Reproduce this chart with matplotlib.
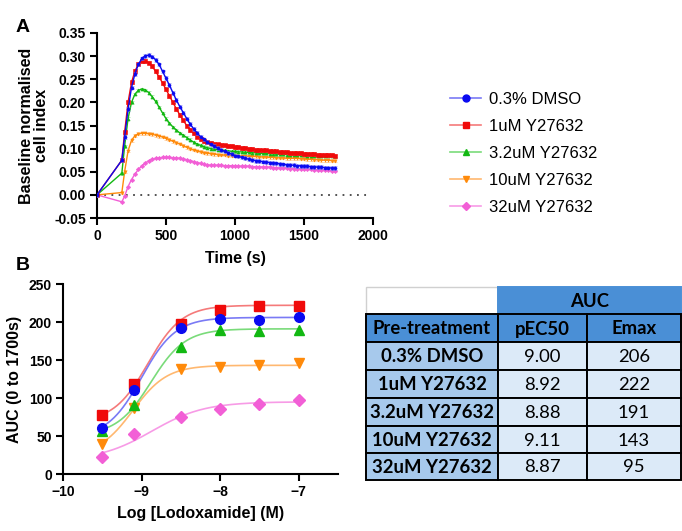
import numpy as np
import matplotlib
matplotlib.use('Agg')
import matplotlib.pyplot as plt
from matplotlib.lines import Line2D
from matplotlib.patches import Rectangle

plt.rcParams['font.family'] = ['Liberation Sans', 'DejaVu Sans']

# ---------------- data ----------------
labels = ['0.3% DMSO', '1uM Y27632', '3.2uM Y27632', '10uM Y27632', '32uM Y27632']
colors = ['#0A0AF0', '#F00A0A', '#12B812', '#FF8A0A', '#F25FD6']
light = ['#7A7AF5', '#F57A7A', '#7ADB7A', '#FFB870', '#F79BE6']
markers = ['o', 's', '^', 'v', 'D']

# panel A: time course (s)
time_early = [0, 180]
time_late = np.arange(200, 1726, 25)

dmso = [0.0, 0.075,
        0.125, 0.185, 0.232, 0.262, 0.282, 0.295, 0.301, 0.302, 0.299, 0.292,
        0.282, 0.267, 0.252, 0.237, 0.221, 0.205, 0.191, 0.178, 0.165, 0.153,
        0.143, 0.134, 0.126, 0.120, 0.114, 0.109, 0.105, 0.101, 0.097, 0.094,
        0.091, 0.088, 0.085, 0.083, 0.081, 0.079, 0.077, 0.076, 0.074, 0.073,
        0.072, 0.071, 0.070, 0.069, 0.068, 0.067, 0.066, 0.065, 0.065, 0.064,
        0.063, 0.063, 0.062, 0.062, 0.061, 0.061, 0.060, 0.060, 0.059, 0.059,
        0.058, 0.058]
y1um = [0.0, 0.075,
        0.135, 0.200, 0.243, 0.268, 0.282, 0.289, 0.290, 0.286, 0.278, 0.267,
        0.255, 0.242, 0.228, 0.214, 0.200, 0.186, 0.173, 0.161, 0.150, 0.141,
        0.133, 0.126, 0.121, 0.117, 0.114, 0.112, 0.110, 0.109, 0.108, 0.107,
        0.106, 0.105, 0.104, 0.103, 0.102, 0.101, 0.100, 0.099, 0.098, 0.097,
        0.096, 0.096, 0.095, 0.094, 0.094, 0.093, 0.092, 0.092, 0.091, 0.091,
        0.090, 0.090, 0.089, 0.089, 0.088, 0.088, 0.087, 0.087, 0.087, 0.086,
        0.086, 0.085]
y3um = [0.0, 0.047,
        0.105, 0.165, 0.200, 0.218, 0.226, 0.229, 0.227, 0.221, 0.212, 0.202,
        0.190, 0.177, 0.165, 0.155, 0.147, 0.140, 0.134, 0.129, 0.124, 0.119,
        0.114, 0.110, 0.107, 0.104, 0.102, 0.100, 0.099, 0.098, 0.097, 0.096,
        0.095, 0.094, 0.094, 0.093, 0.093, 0.092, 0.092, 0.091, 0.091, 0.090,
        0.090, 0.090, 0.089, 0.089, 0.088, 0.088, 0.088, 0.087, 0.087, 0.087,
        0.086, 0.086, 0.086, 0.085, 0.085, 0.085, 0.085, 0.084, 0.084, 0.084,
        0.084, 0.083]
y10um = [0.0, 0.005,
         0.050, 0.095, 0.118, 0.128, 0.132, 0.133, 0.133, 0.132, 0.131, 0.129,
         0.127, 0.125, 0.122, 0.119, 0.116, 0.113, 0.110, 0.106, 0.103, 0.100,
         0.097, 0.095, 0.093, 0.091, 0.090, 0.089, 0.088, 0.087, 0.086, 0.086,
         0.085, 0.085, 0.085, 0.084, 0.084, 0.084, 0.083, 0.083, 0.083, 0.082,
         0.082, 0.082, 0.081, 0.081, 0.080, 0.080, 0.080, 0.079, 0.079, 0.079,
         0.079, 0.078, 0.078, 0.077, 0.077, 0.076, 0.076, 0.075, 0.075, 0.075,
         0.074, 0.074]
y32um = [0.0, -0.015,
         -0.003, 0.018, 0.033, 0.045, 0.055, 0.063, 0.069, 0.074, 0.077, 0.079,
         0.080, 0.081, 0.081, 0.081, 0.080, 0.080, 0.079, 0.078, 0.076, 0.074,
         0.072, 0.070, 0.068, 0.066, 0.065, 0.064, 0.064, 0.064, 0.064, 0.063,
         0.063, 0.063, 0.063, 0.062, 0.062, 0.062, 0.062, 0.061, 0.061, 0.061,
         0.060, 0.060, 0.060, 0.059, 0.059, 0.058, 0.058, 0.058, 0.057, 0.057,
         0.056, 0.056, 0.056, 0.055, 0.055, 0.054, 0.054, 0.054, 0.053, 0.053,
         0.052, 0.052]
sem_a = [0.004, 0.004, 0.003, 0.003, 0.002]

# panel B: concentration response
log_conc = [-9.5, -9.1, -8.5, -8.0, -7.5, -7.0]
auc_dmso = [61, 111, 192, 204, 203, 206]
auc_1um = [77, 118, 197, 216, 221, 221]
auc_3um = [57, 91, 167, 189, 188, 189]
auc_10um = [40, 87, 138, 141, 143, 146]
auc_32um = [22, 52, 75, 85, 92, 97]
hill = [2.0, 2.0, 2.0, 2.0, 1.3]

# table
pec50 = [9.00, 8.92, 8.88, 9.11, 8.87]
emax = [206, 222, 191, 143, 95]

# ---------------- figure ----------------
fig = plt.figure(figsize=(6.82, 5.31), dpi=100)

bold = dict(fontweight='bold')

# ---- panel A ----
axA = fig.add_axes([97/682, 1 - 218/531, 276/682, 185/531])
tA = np.concatenate([time_early, time_late])
seriesA = [dmso, y1um, y3um, y10um, y32um]
order = [4, 3, 2, 1, 0]
for i in order:
    y = np.array(seriesA[i])
    axA.errorbar(tA, y, yerr=sem_a[i], color=colors[i], ecolor=light[i],
                 elinewidth=0.7, capsize=1.2, capthick=0.7,
                 marker=markers[i], markersize=2.2, linewidth=1.0,
                 markeredgewidth=0.4, zorder=3 + (4 - i))
axA.axhline(0, xmin=0, xmax=0.985, color='#444444', linestyle=(0, (1, 3)),
            linewidth=1.3, zorder=1)
axA.set_xlim(0, 2000)
axA.set_ylim(-0.05, 0.35)
axA.set_xticks([0, 500, 1000, 1500, 2000])
axA.set_yticks(np.arange(-0.05, 0.351, 0.05))
axA.set_yticklabels(['%.2f' % v for v in np.arange(-0.05, 0.351, 0.05)])
axA.set_xlabel('Time (s)', fontsize=11.5, labelpad=6, **bold)
axA.set_ylabel('Baseline normalised\ncell index', fontsize=11.5, labelpad=4,
               linespacing=1.0, **bold)

# ---- panel B ----
axB = fig.add_axes([63/682, 57/531, 275/682, 190/531])
seriesB = [auc_dmso, auc_1um, auc_3um, auc_10um, auc_32um]
msizes = [7, 7, 7, 7, 6]
xfit = np.linspace(-9.5, -7.0, 200)
xc = np.array(log_conc)
for i in order:
    y = np.array(seriesB[i], dtype=float)
    # fit bottom with top = Emax, logEC50 = -pEC50
    f = 1.0 / (1.0 + 10 ** (hill[i] * (-pec50[i] - xc)))
    bottom = np.sum((y - emax[i] * f) * (1 - f)) / np.sum((1 - f) ** 2)
    ff = 1.0 / (1.0 + 10 ** (hill[i] * (-pec50[i] - xfit)))
    axB.plot(xfit, bottom + (emax[i] - bottom) * ff, color=light[i],
             linewidth=1.2, zorder=2)
    axB.plot(xc, y, linestyle='none', marker=markers[i], markersize=msizes[i],
             color=colors[i], zorder=3)
axB.set_xlim(-10, -6.5)
axB.set_ylim(0, 250)
axB.set_xticks([-10, -9, -8, -7])
axB.set_yticks([0, 50, 100, 150, 200, 250])
axB.set_xlabel('Log [Lodoxamide] (M)', fontsize=11.5, labelpad=5, **bold)
axB.set_ylabel('AUC (0 to 1700s)', fontsize=11.5, labelpad=5, **bold)

for ax in (axA, axB):
    for s in ('top', 'right'):
        ax.spines[s].set_visible(False)
    for s in ('left', 'bottom'):
        ax.spines[s].set_linewidth(1.5)
    ax.tick_params(direction='out', length=5, width=1.5, labelsize=10, pad=3)
    for lab in ax.get_xticklabels() + ax.get_yticklabels():
        lab.set_fontweight('bold')

fig.text(16/682, 1 - 27/531, 'A', fontsize=14, va='center', **bold)
fig.text(16/682, 1 - 265/531, 'B', fontsize=14, va='center', **bold)

# ---- legend ----
handles = [Line2D([], [], color=light[i], marker=markers[i], markersize=5 if i < 4 else 4,
                  markerfacecolor=colors[i], markeredgecolor=colors[i], linewidth=1.2)
           for i in range(5)]
fig.legend(handles, labels, loc='upper left', bbox_to_anchor=(443/682, 1 - 85/531),
           frameon=False, fontsize=12, handlelength=1.9, handletextpad=0.45,
           labelspacing=0.72, borderaxespad=0)

# ---- table ----
axT = fig.add_axes([366/682, 51/531, 315/682, 193/531])
axT.set_xlim(0, 315)
axT.set_ylim(193, 0)
axT.axis('off')
col_edges = [0, 132, 221, 315]
row_edges = [0, 27, 55, 83, 111, 139, 166, 193]
head_blue = '#4A8FD6'
first_col = '#A7C9EC'
cell_col = '#DCEAF8'
tfont = ['Lato', 'DejaVu Sans']
tsize = 13.3

def cell(x0, x1, y0, y1, fc, ec='black', lw=1.4):
    axT.add_patch(Rectangle((x0, y0), x1 - x0, y1 - y0, facecolor=fc,
                            edgecolor=ec, linewidth=lw, clip_on=False))

# top header row
cell(col_edges[0], col_edges[1], row_edges[0], row_edges[1], 'white', ec='#D0D0D0', lw=1.0)
cell(col_edges[1], col_edges[3], row_edges[0], row_edges[1], head_blue, ec=head_blue)
axT.text((col_edges[1] + col_edges[3]) / 2, (row_edges[0] + row_edges[1]) / 2 + 1, 'AUC',
         ha='center', va='center', fontsize=tsize, fontweight='bold', family=tfont)
# second header row
heads = ['Pre-treatment', 'pEC50', 'Emax']
for j in range(3):
    cell(col_edges[j], col_edges[j + 1], row_edges[1], row_edges[2], head_blue)
    axT.text((col_edges[j] + col_edges[j + 1]) / 2, (row_edges[1] + row_edges[2]) / 2 + 1,
             heads[j], ha='center', va='center', fontsize=tsize, fontweight='bold',
             family=tfont)
# body
for r in range(5):
    y0, y1 = row_edges[r + 2], row_edges[r + 3]
    ym = (y0 + y1) / 2 + 1
    cell(col_edges[0], col_edges[1], y0, y1, first_col)
    cell(col_edges[1], col_edges[2], y0, y1, cell_col)
    cell(col_edges[2], col_edges[3], y0, y1, cell_col)
    axT.text((col_edges[0] + col_edges[1]) / 2, ym, labels[r], ha='center', va='center',
             fontsize=tsize, fontweight='bold', family=tfont)
    axT.text((col_edges[1] + col_edges[2]) / 2, ym, '%.2f' % pec50[r], ha='center',
             va='center', fontsize=tsize, family=tfont)
    axT.text((col_edges[2] + col_edges[3]) / 2, ym, '%d' % emax[r], ha='center',
             va='center', fontsize=tsize, family=tfont)

fig.savefig('out.png', dpi=100)
